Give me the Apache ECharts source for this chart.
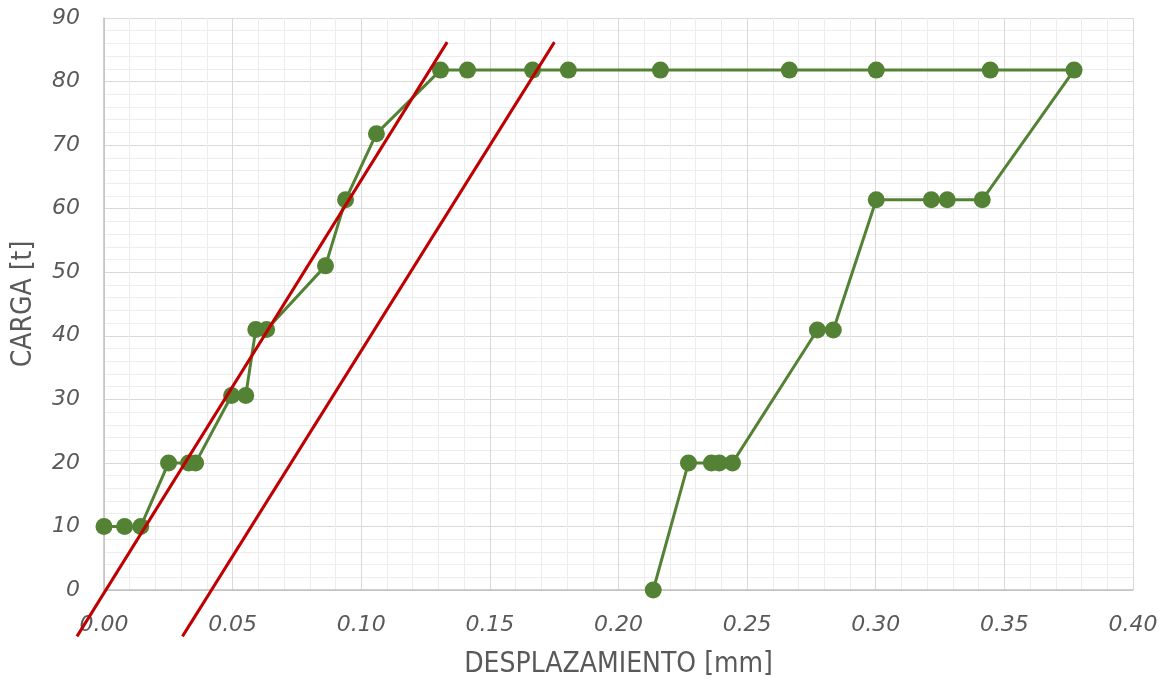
<!DOCTYPE html>
<html>
<head>
<meta charset="utf-8">
<script src="https://cdn.jsdelivr.net/npm/echarts@6/dist/echarts.min.js"></script>
<style>
html, body { margin: 0; padding: 0; background: #fff; }
#chart { width: 1170px; height: 694px; }
</style>
</head>
<body>
<div id="chart"></div>
<script>
// ensayo de carga: desplazamiento [mm] vs carga [t]
var desplazamiento = [0.000, 0.008, 0.0143, 0.0251, 0.0329, 0.0356, 0.0496, 0.0551, 0.0590, 0.0632,
    0.0861, 0.0939, 0.1059, 0.1308, 0.1413, 0.1666, 0.1805, 0.2163, 0.2664, 0.3002, 0.3445, 0.3771,
    0.3414, 0.3278, 0.3216, 0.3002, 0.2835, 0.2773, 0.2443, 0.2392, 0.2361, 0.2272, 0.2135];
var carga = [10, 10, 10, 20, 20, 20, 30.6, 30.6, 41, 41,
    51, 61.4, 71.8, 81.8, 81.8, 81.8, 81.8, 81.8, 81.8, 81.8, 81.8, 81.8,
    61.4, 61.4, 61.4, 61.4, 40.9, 40.9, 20, 20, 20, 20, 0];

// rectas de referencia (pendiente elastica)
var recta1X = [-0.0105, 0.1334];
var recta1Y = [-7.3, 86.2];
var recta2X = [0.0305, 0.1751];
var recta2Y = [-7.3, 86.2];

var xTicks = { min: 0, max: 0.4, interval: 0.05 };
var yTicks = { min: 0, max: 90, interval: 10 };

function pares(xs, ys) {
    var out = [];
    for (var i = 0; i < xs.length; i++) out.push([xs[i], ys[i]]);
    return out;
}

var myChart = echarts.init(document.getElementById('chart'));
var tickFont = {
    color: '#595959',
    fontSize: 22,
    fontStyle: 'italic',
    fontFamily: 'DejaVu Sans'
};
var titleFont = {
    color: '#595959',
    fontSize: 28,
    fontFamily: "'Liberation Sans Narrow', 'DejaVu Sans Condensed', sans-serif"
};

var option = {
    animation: false,
    grid: {
        left: 104,
        right: 37,
        top: 18,
        bottom: 104
    },
    xAxis: {
        type: 'value',
        min: xTicks.min,
        max: xTicks.max,
        interval: xTicks.interval,
        name: 'DESPLAZAMIENTO [mm]',
        nameLocation: 'middle',
        nameGap: 61,
        nameTextStyle: titleFont,
        axisLine: { show: true, lineStyle: { color: '#BFBFBF', width: 1.5 } },
        axisTick: { show: false },
        axisLabel: Object.assign({ margin: 24, formatter: function (v) { return v.toFixed(2); } }, tickFont),
        splitLine: { show: true, lineStyle: { color: '#D9D9D9', width: 1 } },
        minorTick: { show: false, splitNumber: 5 },
        minorSplitLine: { show: true, lineStyle: { color: '#EDEDED', width: 1 } }
    },
    yAxis: {
        type: 'value',
        min: yTicks.min,
        max: yTicks.max,
        interval: yTicks.interval,
        name: 'CARGA [t]',
        nameLocation: 'middle',
        nameGap: 66,
        nameTextStyle: titleFont,
        axisLine: { show: true, lineStyle: { color: '#BFBFBF', width: 1.5 } },
        axisTick: { show: false },
        axisLabel: Object.assign({ margin: 24 }, tickFont),
        splitLine: { show: true, lineStyle: { color: '#D9D9D9', width: 1 } },
        minorTick: { show: false, splitNumber: 5 },
        minorSplitLine: { show: true, lineStyle: { color: '#EDEDED', width: 1 } }
    },
    series: [
        {
            name: 'Ensayo',
            type: 'line',
            data: pares(desplazamiento, carga),
            symbol: 'circle',
            symbolSize: 17,
            lineStyle: { color: '#548235', width: 3 },
            itemStyle: { color: '#548235' },
            z: 3
        },
        {
            // las rectas salen del area del grafico, por eso 'lines' sin recorte
            name: 'Rectas',
            type: 'lines',
            coordinateSystem: 'cartesian2d',
            clip: false,
            polyline: false,
            data: [
                { coords: pares(recta1X, recta1Y) },
                { coords: pares(recta2X, recta2Y) }
            ],
            lineStyle: { color: '#C00000', width: 3, opacity: 1, curveness: 0 },
            z: 4
        }
    ]
};

myChart.setOption(option);
window.addEventListener('resize', function () { myChart.resize(); });
</script>
</body>
</html>
